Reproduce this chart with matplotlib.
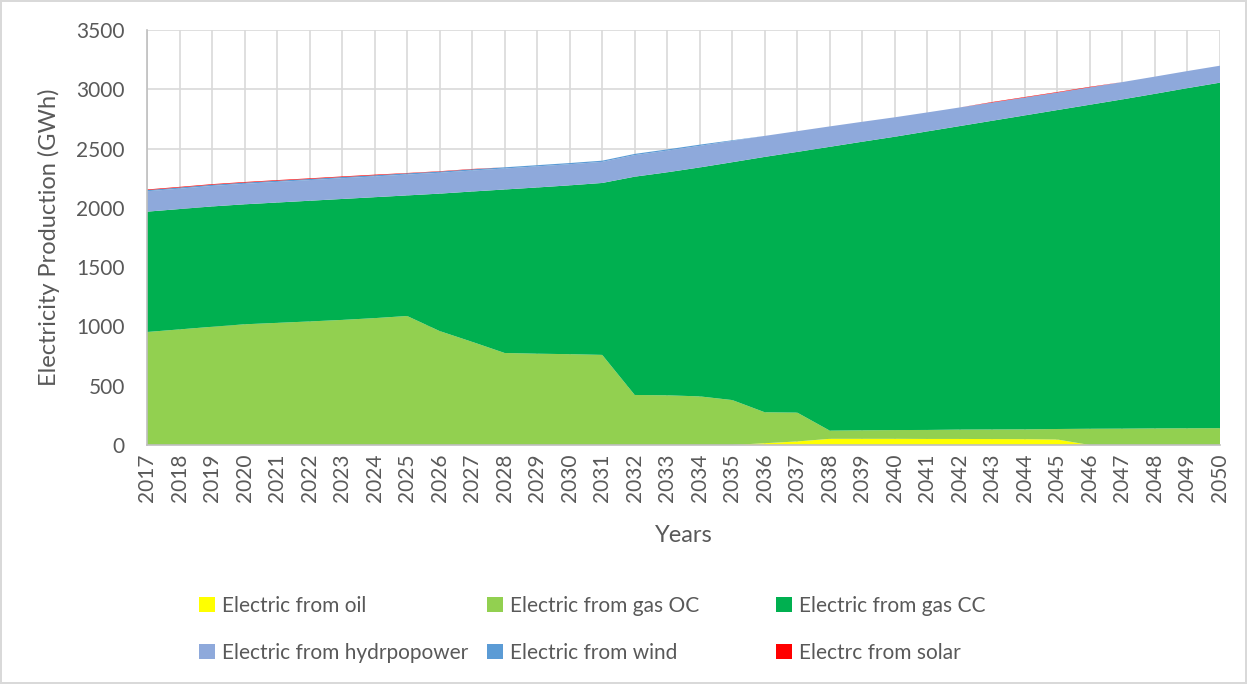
import numpy as np
import matplotlib.pyplot as plt

plt.rcParams['font.family'] = ['Lato', 'DejaVu Sans']

years = np.arange(2017, 2051)

# annual production by source (GWh)
oil = [0, 0, 0, 0, 0, 0, 0, 0, 0, 0, 0, 0, 0, 0, 0, 0, 0, 0,
       0, 15, 30, 52, 52, 52, 51, 51, 50, 49, 46, 0, 0, 0, 0, 0]
gas_oc = [953, 975, 997, 1018, 1030, 1042, 1055, 1070, 1088, 961, 870, 776,
          770, 766, 760, 422, 419, 410, 379, 261, 243, 69, 72, 74, 76, 79,
          81, 83, 89, 137, 138, 140, 141, 142]
gas_cc = [1015, 1015, 1015, 1012, 1015, 1018, 1020, 1020, 1017, 1159, 1268,
          1379, 1402, 1424, 1450, 1841, 1881, 1931, 2006, 2154, 2199, 2394,
          2434, 2474, 2518, 2560, 2604, 2648, 2690, 2733, 2777, 2822, 2869,
          2914]
hydro = [172, 172, 173, 173, 174, 174, 175, 175, 176, 176, 177, 177, 178,
         178, 178, 182, 183, 182, 180, 177, 175, 172, 168, 164, 160, 157,
         154, 151, 148, 147, 146, 145, 144, 143]
wind = [10, 10, 10, 10, 10, 10, 10, 10, 10, 10, 10, 10, 10, 10, 10, 10, 10,
        10, 5, 0, 0, 0, 0, 0, 0, 0, 0, 0, 0, 0, 0, 0, 0, 0]
solar = [5, 5, 5, 5, 5, 5, 5, 5, 3, 3, 3, 0, 0, 0, 0, 0, 0, 0, 0, 0, 0, 0,
         0, 0, 0, 0, 4, 4, 4, 4, 0, 0, 0, 0]

labels = ['Electric from oil', 'Electric from gas OC', 'Electric from gas CC',
          'Electric from hydrpopower', 'Electric from wind', 'Electrc from solar']
colors = ['#FFFF00', '#92D050', '#00B050', '#8EA9DB', '#5B9BD5', '#FF0000']

text_col = '#595959'
grid_col = '#D9D9D9'

fig = plt.figure(figsize=(12.47, 6.84), dpi=100)
fig.patch.set_edgecolor(grid_col)
fig.patch.set_linewidth(1.5)
ax = fig.add_axes([147 / 1247, 1 - 445 / 684, 1073 / 1247, 415 / 684])

polys = ax.stackplot(years, oil, gas_oc, gas_cc, hydro, wind, solar,
                     colors=colors, labels=labels, linewidth=0)

ax.set_xlim(2017, 2050)
ax.set_ylim(0, 3500)
ax.set_xticks(years)
ax.set_xticklabels([str(y) for y in years], rotation=90)
ax.set_yticks(np.arange(0, 3501, 500))
ax.tick_params(length=0, labelsize=15, labelcolor=text_col)
ax.tick_params(axis='y', pad=16)
ax.tick_params(axis='x', pad=6)
ax.grid(True, color=grid_col, linewidth=1.2)
ax.set_axisbelow(True)
for s in ['top', 'right']:
    ax.spines[s].set_visible(False)
for s in ['left', 'bottom']:
    ax.spines[s].set_color('#BFBFBF')
    ax.spines[s].set_linewidth(1.2)

ax.set_xlabel('Years', fontsize=17, color=text_col, labelpad=17)
ax.set_ylabel('Electricity Production (GWh)', fontsize=17, color=text_col, labelpad=12)

# legend laid out as three columns of two entries
col_x = [199, 487, 776]
for c in range(3):
    leg = fig.legend([polys[c], polys[c + 3]], [labels[c], labels[c + 3]],
                     loc='upper left', bbox_to_anchor=(col_x[c] / 1247, 1 - 596 / 684),
                     frameon=False, fontsize=15, handlelength=0.75, handleheight=0.75,
                     handletextpad=0.35, labelspacing=1.3, borderpad=0,
                     borderaxespad=0, labelcolor=text_col)

fig.savefig('out.png', dpi=100)
